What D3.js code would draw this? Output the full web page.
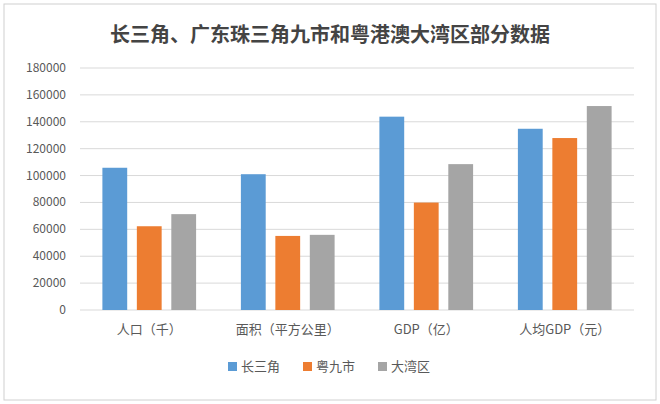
<!DOCTYPE html>
<html><head><meta charset="utf-8">
<script src="https://cdn.jsdelivr.net/npm/d3@7"></script>
<style>body{margin:0;background:#fff}text{font-family:"Noto Sans CJK SC","Microsoft YaHei",sans-serif}</style>
</head><body><div id="chart"></div>
<script>
var categories = ['人口（千）', '面积（平方公里）', 'GDP（亿）', '人均GDP（元）']
var seriesNames = ['长三角', '粤九市', '大湾区']
var yrd = [105800, 101000, 143800, 134800]
var prd9 = [62300, 55100, 79900, 127900]
var gba = [71300, 55900, 108500, 151700]
var colors = ['#5b9bd5', '#ed7d31', '#a5a5a5']
var series = [yrd, prd9, gba]

var W = 660, H = 404
var svg = d3.select('#chart').append('svg').attr('width', W).attr('height', H)
svg.append('rect').attr('x', 4).attr('y', 4).attr('width', W - 8).attr('height', H - 8)
  .attr('fill', '#fff').attr('stroke', '#d0d0d0')

svg.append('text').attr('x', 330).attr('y', 42).attr('text-anchor', 'middle')
  .attr('font-size', 20).attr('font-weight', 'bold').attr('fill', '#444')
  .text('长三角、广东珠三角九市和粤港澳大湾区部分数据')

var x = d3.scaleBand().domain(categories).range([80, 634]).paddingInner(0).paddingOuter(0)
var y = d3.scaleLinear().domain([0, 180000]).range([310, 68])
var xi = d3.scaleBand().domain([0, 1, 2]).range([0, x.bandwidth()]).paddingInner(0.28).paddingOuter(0.65)

var ticks = d3.range(0, 180001, 20000)
svg.append('g').selectAll('line').data(ticks).enter().append('line')
  .attr('x1', 80).attr('x2', 634).attr('y1', d => y(d)).attr('y2', d => y(d))
  .attr('stroke', '#d9d9d9')
svg.append('g').selectAll('text').data(ticks).enter().append('text')
  .attr('x', 66).attr('y', d => y(d) + 4).attr('text-anchor', 'end')
  .attr('font-size', 12).attr('fill', '#595959').text(d => d)

series.forEach(function (s, si) {
  svg.append('g').selectAll('rect').data(s).enter().append('rect')
    .attr('x', (d, i) => x(categories[i]) + xi(si))
    .attr('width', xi.bandwidth())
    .attr('y', d => y(d)).attr('height', d => y(0) - y(d))
    .attr('fill', colors[si])
})

svg.append('g').selectAll('text').data(categories).enter().append('text')
  .attr('x', d => x(d) + x.bandwidth() / 2).attr('y', 334).attr('text-anchor', 'middle')
  .attr('font-size', 13).attr('fill', '#595959').text(d => d)

var lg = svg.append('g').selectAll('g').data(seriesNames).enter().append('g')
  .attr('transform', (d, i) => 'translate(' + (228 + i * 75) + ',367)')
lg.append('rect').attr('x', 0).attr('y', -5).attr('width', 9).attr('height', 9).attr('fill', (d, i) => colors[i])
lg.append('text').attr('x', 13).attr('y', 4).attr('font-size', 13).attr('fill', '#595959').text(d => d)
</script></body></html>
